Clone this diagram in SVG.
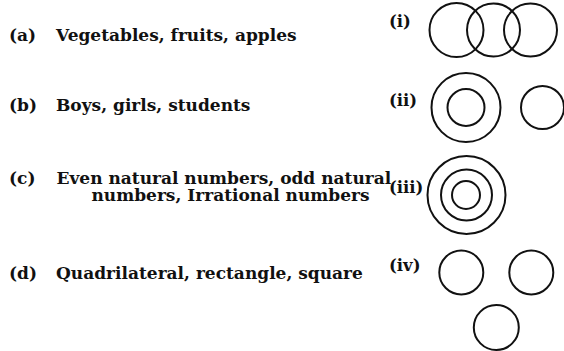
<svg xmlns="http://www.w3.org/2000/svg" width="564" height="351" viewBox="0 0 564 351">
<style>
.t{font-family:"DejaVu Serif","Liberation Serif",serif;font-weight:bold;font-size:17px;fill:#111}
.n{font-family:"DejaVu Serif","Liberation Serif",serif;font-weight:bold;font-size:16.5px;fill:#111}
.c{fill:none;stroke:#111;stroke-width:2}
</style>
<rect width="564" height="351" fill="#fff"/>
<g id="row-a">
<text class="t" x="9" y="40.5">(a)</text>
<text class="t" x="56" y="40.5">Vegetables, fruits, apples</text>
</g>
<g id="row-b">
<text class="t" x="9" y="111">(b)</text>
<text class="t" x="56" y="111">Boys, girls, students</text>
</g>
<g id="row-c">
<text class="t" x="9" y="183.5">(c)</text>
<text class="t" x="56.5" y="183.5">Even natural numbers, odd natural</text>
<text class="t" x="91.5" y="201">numbers, Irrational numbers</text>
</g>
<g id="row-d">
<text class="t" x="9" y="278.5">(d)</text>
<text class="t" x="56" y="278.5">Quadrilateral, rectangle, square</text>
</g>
<g id="diagram-i">
<text class="n" x="389" y="27">(i)</text>
<circle class="c" cx="456.5" cy="30" r="27"/>
<circle class="c" cx="493.5" cy="30" r="26.5"/>
<circle class="c" cx="530.5" cy="30" r="26.5"/>
</g>
<g id="diagram-ii">
<text class="n" x="389" y="106">(ii)</text>
<circle class="c" cx="466" cy="107.5" r="34.5"/>
<circle class="c" cx="466" cy="107.5" r="18.5"/>
<circle class="c" cx="542.5" cy="107.5" r="21.5"/>
</g>
<g id="diagram-iii">
<text class="n" x="389" y="193">(iii)</text>
<circle class="c" cx="466.5" cy="195" r="39"/>
<circle class="c" cx="466.5" cy="195" r="25.5"/>
<circle class="c" cx="466" cy="195" r="14"/>
</g>
<g id="diagram-iv">
<text class="n" x="389" y="271">(iv)</text>
<circle class="c" cx="461.3" cy="272.5" r="22"/>
<circle class="c" cx="531.3" cy="272.5" r="22"/>
<circle class="c" cx="496.3" cy="327.5" r="22.5"/>
</g>
</svg>
